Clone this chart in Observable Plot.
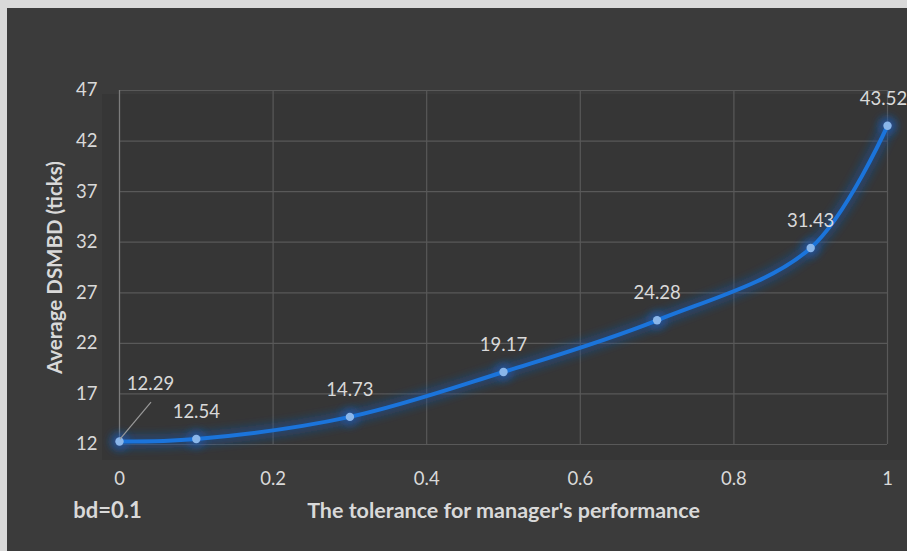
<!DOCTYPE html>
<html><head><meta charset="utf-8">
<script src="https://cdn.jsdelivr.net/npm/d3@7"></script>
<script src="https://cdn.jsdelivr.net/npm/@observablehq/plot@0.6"></script>
<style>
html,body{margin:0;padding:0;background:#3b3b3b;overflow:hidden}
svg{display:block}
</style>
</head><body><div id="chart"></div>
<script>
const tolerance = [0, 0.1, 0.3, 0.5, 0.7, 0.9, 1];
const dsmbd = [12.29, 12.54, 14.73, 19.17, 24.28, 31.43, 43.52];
const xTicks = [0, 0.2, 0.4, 0.6, 0.8, 1];
const yTicks = [12, 17, 22, 27, 32, 37, 42, 47];
const xTitle = "The tolerance for manager's performance";
const yTitle = "Average DSMBD (ticks)";
const note = "bd=0.1";

const data = tolerance.map((x, i) => ({x, y: dsmbd[i]}));
const FONT = "Lato, 'Open Sans', sans-serif";
const TXT = "#d9d9d9";
const GRID = "#595959";
const last = data.length - 1;

const plot = Plot.plot({
  width: 907, height: 551,
  marginLeft: 119, marginRight: 20, marginTop: 90, marginBottom: 107,
  style: {background: "transparent", fontFamily: FONT, fontSize: "18.5px", color: TXT, overflow: "visible"},
  x: {domain: [0, 1], ticks: xTicks},
  y: {domain: [12, 47], ticks: yTicks},
  marks: [
    Plot.gridX(xTicks, {stroke: GRID, strokeOpacity: 1, strokeWidth: 1.2}),
    Plot.gridY(yTicks, {stroke: GRID, strokeOpacity: 1, strokeWidth: 1.2}),
    Plot.ruleX([0], {stroke: "#7c7c7c", strokeWidth: 1.2}),
    Plot.axisX(xTicks, {tickSize: 0, tickPadding: 27, tickFormat: d => String(d), fill: TXT, label: null}),
    Plot.axisY(yTicks, {tickSize: 0, tickPadding: 22, tickFormat: d => String(d), fill: TXT, label: null}),
    // glow layer
    Plot.line(data, {x: "x", y: "y", curve: "catmull-rom", stroke: "#1a52a0", strokeWidth: 14, strokeOpacity: 0.5}),
    Plot.dot(data, {x: "x", y: "y", r: 9, fill: "#1c5cb4", fillOpacity: 0.6}),
    // main line
    Plot.line(data, {x: "x", y: "y", curve: "catmull-rom", stroke: "#1b74db", strokeWidth: 4}),
    Plot.dot(data, {x: "x", y: "y", r: 4.2, fill: "#8ab6ea"}),
    Plot.text(data.slice(1, last), {x: "x", y: "y", text: d => d.y.toFixed(2), dy: -27, fill: TXT}),
    Plot.text(data.slice(last), {x: "x", y: "y", text: d => d.y.toFixed(2), dx: -4, dy: -27, fill: TXT}),
    Plot.text(data.slice(0, 1), {x: "x", y: "y", text: d => d.y.toFixed(2), dx: 31, dy: -57, fill: TXT}),
    Plot.text([xTitle], {frameAnchor: "bottom", textAnchor: "middle", dy: 73, fontWeight: "bold", fill: TXT, fontSize: 21.5}),
    Plot.text([note], {frameAnchor: "bottom-left", textAnchor: "middle", dx: -12, dy: 73, fontWeight: "bold", fill: TXT, fontSize: 22}),
    Plot.text([yTitle], {frameAnchor: "left", textAnchor: "middle", dx: -64, rotate: -90, fontWeight: "bold", fill: TXT, fontSize: 20.5})
  ]
});

const svg = d3.select(plot);
const defs = svg.insert("defs", ":first-child");
defs.append("filter").attr("id", "glow").attr("x", "-20%").attr("y", "-20%").attr("width", "140%").attr("height", "140%")
  .append("feGaussianBlur").attr("stdDeviation", 4);
const lines = svg.selectAll('g[aria-label="line"]').nodes();
const dots = svg.selectAll('g[aria-label="dot"]').nodes();
if (lines[0]) d3.select(lines[0]).attr("filter", "url(#glow)");
if (dots[0]) d3.select(dots[0]).attr("filter", "url(#glow)");

const bg = svg.insert("g", "defs + *");
bg.append("rect").attr("x", 0).attr("y", 0).attr("width", 907).attr("height", 551).attr("fill", "#3b3b3b");
bg.append("rect").attr("x", 102).attr("y", 94).attr("width", 805).attr("height", 366).attr("fill", "#363636");
bg.append("rect").attr("x", 0).attr("y", 0).attr("width", 907).attr("height", 8).attr("fill", "#d9d9d9");
bg.append("rect").attr("x", 0).attr("y", 0).attr("width", 7).attr("height", 551).attr("fill", "#d9d9d9");

const sx = plot.scale("x"), sy = plot.scale("y");
const px = sx.apply(data[0].x), py = sy.apply(data[0].y);
svg.append("line").attr("x1", px + 1).attr("y1", py - 2).attr("x2", px + 32).attr("y2", py - 39)
  .attr("stroke", "#9a9a9a").attr("stroke-width", 1.2);

document.getElementById("chart").appendChild(plot);
</script>
</body></html>
